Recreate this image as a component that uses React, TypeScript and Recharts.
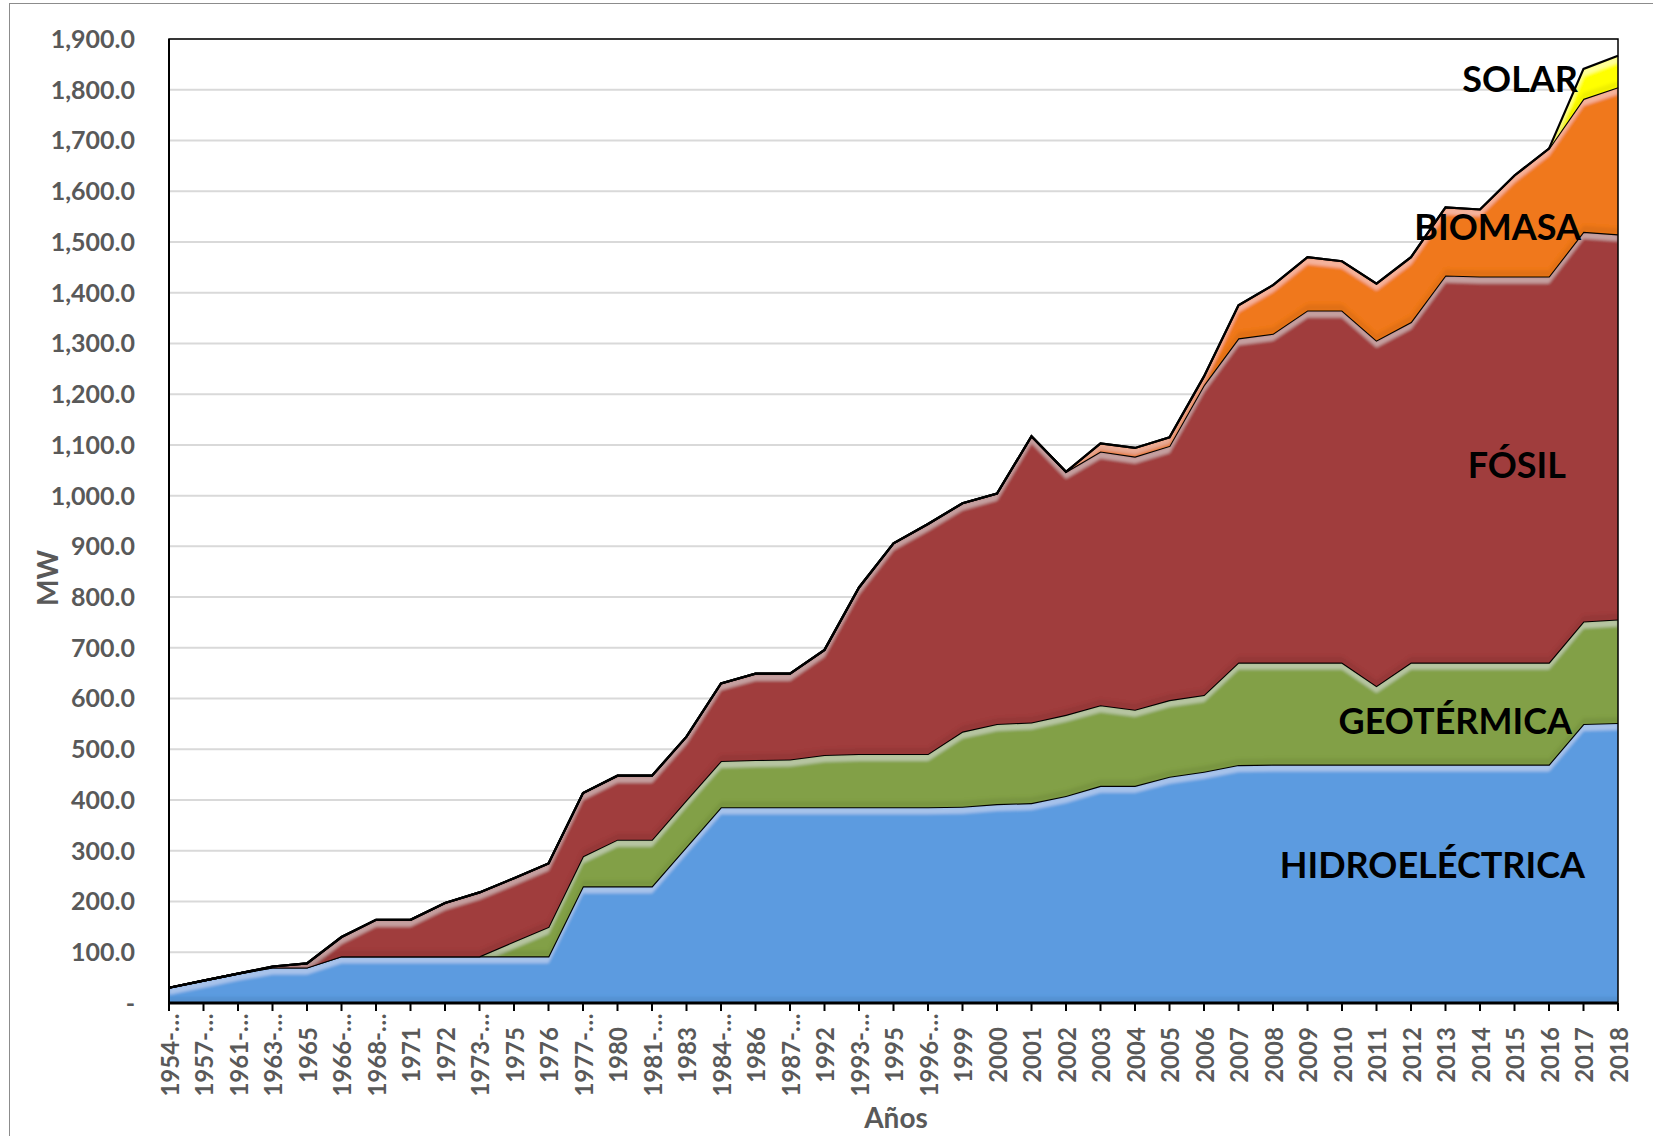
import { AreaChart, Area, XAxis, YAxis, CartesianGrid, ReferenceArea } from "recharts";

const years = [
  "1954-…", "1957-…", "1961-…", "1963-…", "1965", "1966-…", "1968-…", "1971", "1972", "1973-…",
  "1975", "1976", "1977-…", "1980", "1981-…", "1983", "1984-…", "1986", "1987-…", "1992",
  "1993-…", "1995", "1996-…", "1999", "2000", "2001", "2002", "2003", "2004", "2005",
  "2006", "2007", "2008", "2009", "2010", "2011", "2012", "2013", "2014", "2015",
  "2016", "2017", "2018"
];

const hidroelectrica = [
  30, 44, 58, 70, 70, 92, 92, 92, 92, 92,
  92, 92, 230, 230, 230, 308, 386, 386, 386, 386,
  386, 386, 386, 387, 392, 394, 408, 428, 428, 446,
  456, 469, 470, 470, 470, 470, 470, 470, 470, 470,
  470, 550, 552
];

const geotermica = [
  0, 0, 0, 0, 0, 0, 0, 0, 0, 0,
  29, 58, 59, 92, 92, 92, 91, 93, 94, 103,
  105, 105, 105, 148, 158, 159, 160, 159, 150, 151,
  151, 202, 201, 201, 201, 155, 201, 201, 201, 201,
  201, 202, 204
];

const fosil = [
  0, 0, 0, 2, 8, 38, 72, 72, 105, 126,
  125, 125, 125, 126, 126, 125, 153, 170, 169, 207,
  328, 415, 453, 450, 454, 564, 479, 500, 499, 501,
  611, 639, 648, 694, 694, 681, 671, 763, 761, 761,
  761, 768, 759
];

const biomasa = [
  0, 0, 0, 0, 0, 0, 0, 0, 0, 0,
  0, 0, 0, 0, 0, 0, 0, 0, 0, 0,
  0, 0, 0, 0, 0, 0, 0, 16, 17, 17,
  17, 65, 96, 105, 97, 112, 128, 134, 132, 199,
  252, 262, 290
];

const solar = [
  0, 0, 0, 0, 0, 0, 0, 0, 0, 0,
  0, 0, 0, 0, 0, 0, 0, 0, 0, 0,
  0, 0, 0, 0, 0, 0, 0, 0, 0, 0,
  0, 0, 0, 0, 0, 0, 0, 0, 0, 0,
  0, 59, 62
];

const yTicks = [0, 100, 200, 300, 400, 500, 600, 700, 800, 900, 1000, 1100, 1200, 1300, 1400, 1500, 1600, 1700, 1800, 1900];

const data = years.map((year, i) => ({
  year,
  hidro: hidroelectrica[i],
  geo: geotermica[i],
  fosil: fosil[i],
  bio: biomasa[i],
  solar: solar[i],
}));

const FONT = "Lato, 'Open Sans', sans-serif";
const GRAY = "#595959";

const fmtY = (v: number) =>
  v === 0 ? "-" : v.toLocaleString("en-US", { minimumFractionDigits: 1, maximumFractionDigits: 1 });

const XTick = ({ x, y, payload }: any) => {
  const cy = y + 42;
  return (
    <text
      x={x}
      y={cy}
      transform={`rotate(-90, ${x}, ${cy})`}
      textAnchor="middle"
      dominantBaseline="central"
      fill={GRAY}
      fontSize={24}
      fontWeight={700}
      fontFamily={FONT}
    >
      {payload.value}
    </text>
  );
};

const seriesLabel = {
  fontFamily: FONT,
  fontWeight: 700,
  fontSize: 36,
  fill: "#000",
  textAnchor: "end" as const,
  dominantBaseline: "central" as const,
};

// soft bevel like the Excel 3-D format: light band under the top edge, darker band at the bottom
const css = `.recharts-area-area { filter: url(#bevel); }`;

export default function App() {
  return (
    <div style={{ position: "absolute", left: 0, top: 0, width: 1653, height: 1136, overflow: "hidden", background: "#fff" }}>
      <style>{css}</style>
      <div style={{ position: "absolute", left: 9, top: 3, width: 1660, height: 1140, borderLeft: "1.5px solid #8c8c8c", borderTop: "1.5px solid #8c8c8c" }} />
      <AreaChart width={1653} height={1136} data={data} margin={{ top: 39, right: 35, bottom: 0, left: 0 }}>
        <defs>
          <filter id="bevel" filterUnits="userSpaceOnUse" x={0} y={0} width={1653} height={1136}>
            <feOffset in="SourceAlpha" dy={7} result="down" />
            <feComposite in="SourceAlpha" in2="down" operator="out" result="topEdge" />
            <feGaussianBlur in="topEdge" stdDeviation={1.6} result="topBlur" />
            <feComposite in="topBlur" in2="SourceAlpha" operator="in" result="topClip" />
            <feFlood floodColor="#ffffff" floodOpacity={0.32} />
            <feComposite in2="topClip" operator="in" result="hl" />
            <feOffset in="SourceAlpha" dy={-6} result="up" />
            <feComposite in="SourceAlpha" in2="up" operator="out" result="botEdge" />
            <feGaussianBlur in="botEdge" stdDeviation={1.6} result="botBlur" />
            <feComposite in="botBlur" in2="SourceAlpha" operator="in" result="botClip" />
            <feFlood floodColor="#000000" floodOpacity={0.14} />
            <feComposite in2="botClip" operator="in" result="sh" />
            <feMerge>
              <feMergeNode in="SourceGraphic" />
              <feMergeNode in="hl" />
              <feMergeNode in="sh" />
            </feMerge>
          </filter>
        </defs>
        <CartesianGrid vertical={false} stroke="#D9D9D9" strokeWidth={2} />
        <XAxis
          dataKey="year"
          interval={0}
          height={133}
          tick={<XTick />}
          tickSize={8}
          tickLine={{ stroke: "#000", strokeWidth: 2 }}
          axisLine={{ stroke: "#000", strokeWidth: 3 }}
        />
        <YAxis
          width={169}
          domain={[0, 1900]}
          ticks={yTicks}
          interval={0}
          tickFormatter={fmtY}
          tickSize={0}
          tickMargin={34}
          tickLine={false}
          axisLine={{ stroke: "#000", strokeWidth: 2 }}
          tick={{ fill: GRAY, fontSize: 25, fontWeight: 700, fontFamily: FONT }}
        />
        <Area type="linear" dataKey="hidro" stackId="1" fill="#5B9BE0" fillOpacity={1} stroke="#000" strokeWidth={2.2} isAnimationActive={false} />
        <Area type="linear" dataKey="geo" stackId="1" fill="#82A046" fillOpacity={1} stroke="#000" strokeWidth={2.2} isAnimationActive={false} />
        <Area type="linear" dataKey="fosil" stackId="1" fill="#A03C3C" fillOpacity={1} stroke="#000" strokeWidth={2.2} isAnimationActive={false} />
        <Area type="linear" dataKey="bio" stackId="1" fill="#F0781A" fillOpacity={1} stroke="#000" strokeWidth={2.2} isAnimationActive={false} />
        <Area type="linear" dataKey="solar" stackId="1" fill="#FFFF00" fillOpacity={1} stroke="#000" strokeWidth={2.2} isAnimationActive={false} />
        <ReferenceArea x1={years[0]} x2={years[years.length - 1]} y1={0} y2={1900} fill="none" fillOpacity={0} stroke="#000" strokeWidth={1.5} ifOverflow="visible" />
      </AreaChart>
      <svg width={1653} height={1136} style={{ position: "absolute", left: 0, top: 0, pointerEvents: "none" }}>
        <text x={47} y={578} transform="rotate(-90, 47, 578)" textAnchor="middle" dominantBaseline="central" fill={GRAY} fontSize={28} fontWeight={700} fontFamily={FONT}>MW</text>
        <text x={896} y={1117} textAnchor="middle" dominantBaseline="central" fill={GRAY} fontSize={28} fontWeight={700} fontFamily={FONT}>Años</text>
        <text x={1578} y={78} {...seriesLabel}>SOLAR</text>
        <text x={1581} y={226} {...seriesLabel}>BIOMASA</text>
        <text x={1566} y={464} {...seriesLabel}>FÓSIL</text>
        <text x={1572} y={720} {...seriesLabel}>GEOTÉRMICA</text>
        <text x={1585} y={864} {...seriesLabel}>HIDROELÉCTRICA</text>
      </svg>
    </div>
  );
}
